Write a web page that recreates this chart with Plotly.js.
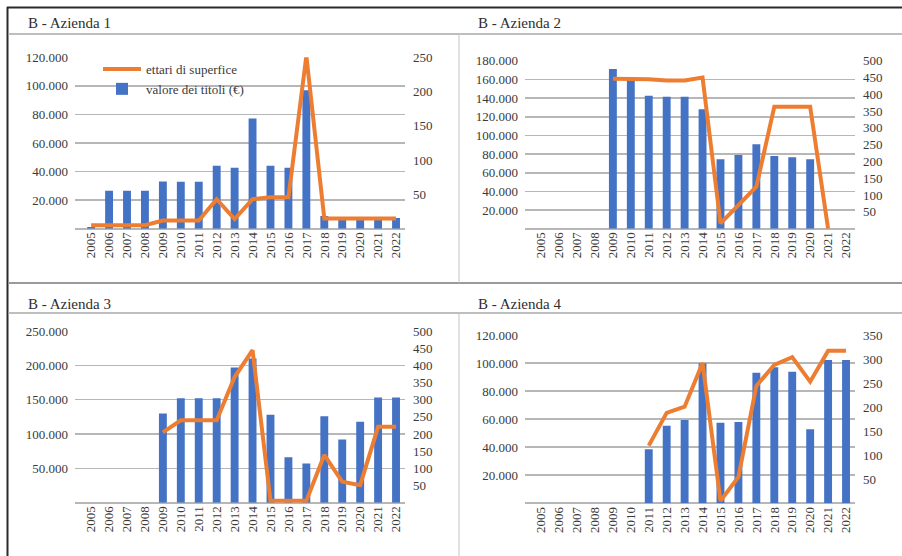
<!DOCTYPE html>
<html>
<head>
<meta charset="utf-8">
<script src="https://cdn.plot.ly/plotly-3.0.1.min.js"></script>
<style>
html,body{margin:0;padding:0;background:#fff;}
#chart{width:902px;height:556px;}
</style>
</head>
<body>
<div id="chart"></div>
<script>
const years = ['2005','2006','2007','2008','2009','2010','2011','2012','2013','2014','2015','2016','2017','2018','2019','2020','2021','2022'];

const panelTitles = ['B - Azienda 1','B - Azienda 2','B - Azienda 3','B - Azienda 4'];
const seriesBarName = 'valore dei titoli (€)';
const seriesLineName = 'ettari di superfice';

const az1Valore = [1200,26500,26500,26500,33000,32800,32800,44000,42600,77200,44000,42600,97000,8900,7500,7500,7500,7500];
const az1Ettari = [5,5,5,5,12,12,12,43,14,43,46,46,252,15,15,15,15,15];

const az2Valore = [null,null,null,null,171000,160000,142500,141400,141400,128000,74300,79000,90400,78000,76500,74300,null,null];
const az2Ettari = [null,null,null,null,446,446,445,441,441,450,16,70,125,363,363,363,0,null];

const az3Valore = [null,null,null,null,130000,152000,152000,152000,197000,210000,128000,66000,57000,126000,92000,118000,153000,153000];
const az3Ettari = [null,null,null,null,205,240,240,240,366,444,6,6,6,139,61,51,221,221];

const az4Valore = [null,null,null,null,null,null,38500,55300,59400,99800,57500,58000,93100,97000,93800,52800,102200,102200];
const az4Ettari = [null,null,null,null,null,null,120,188,201,292,5,55,244,288,304,253,317,317];

const leftTicks1 = [20000,40000,60000,80000,100000,120000];
const rightTicks1 = [50,100,150,200,250];
const leftTicks2 = [20000,40000,60000,80000,100000,120000,140000,160000,180000];
const rightTicks2 = [50,100,150,200,250,300,350,400,450,500];
const leftTicks3 = [50000,100000,150000,200000,250000];
const rightTicks3 = [50,100,150,200,250,300,350,400,450,500];
const leftTicks4 = [20000,40000,60000,80000,100000,120000];
const rightTicks4 = [50,100,150,200,250,300,350];

const W = 902, H = 556;
const BLUE = '#4472C4', ORANGE = '#ED7D31';
const FONT = '"Liberation Serif", "Times New Roman", "DejaVu Serif", serif';
const TXT = '#3a3a3a';
const GRID = '#b7b7b7';

const panels = [
  {bar: az1Valore, line: az1Ettari, lmax:120000, rmax:250, lt:leftTicks1, rt:rightTicks1, x0:75, x1:405, yTop:57.3, yBot:228.7, legend:true},
  {bar: az2Valore, line: az2Ettari, lmax:180000, rmax:500, lt:leftTicks2, rt:rightTicks2, x0:525, x1:855, yTop:60.7, yBot:228.7, legend:false},
  {bar: az3Valore, line: az3Ettari, lmax:250000, rmax:500, lt:leftTicks3, rt:rightTicks3, x0:75, x1:405, yTop:331, yBot:502.7, legend:false},
  {bar: az4Valore, line: az4Ettari, lmax:120000, rmax:350, lt:leftTicks4, rt:rightTicks4, x0:525, x1:855, yTop:335, yBot:503.3, legend:false}
];

const px = v => v / W;
const py = v => 1 - v / H;

const data = [];
const layout = {
  width: W, height: H,
  margin: {l:0, r:0, t:0, b:0},
  paper_bgcolor: '#fff', plot_bgcolor: 'rgba(0,0,0,0)',
  separators: ',.',
  font: {family: FONT, size: 13, color: TXT},
  bargap: 0.56,
  showlegend: true,
  legend: {
    x: px(98), y: py(54), xanchor: 'left', yanchor: 'top',
    bgcolor: 'rgba(0,0,0,0)', borderwidth: 0,
    traceorder: 'reversed',
    font: {family: FONT, size: 13, color: TXT},
    tracegroupgap: 0, itemwidth: 38
  },
  shapes: [], annotations: []
};

panels.forEach((p, i) => {
  const xa = i === 0 ? 'x' : 'x' + (i + 1);
  const yl = 'y' + (2 * i + 1 === 1 ? '' : (2 * i + 1));
  const yr = 'y' + (2 * i + 2);
  const xKey = i === 0 ? 'xaxis' : 'xaxis' + (i + 1);
  const ylKey = 2 * i + 1 === 1 ? 'yaxis' : 'yaxis' + (2 * i + 1);
  const yrKey = 'yaxis' + (2 * i + 2);

  data.push({
    type: 'bar', x: years, y: p.bar, xaxis: xa, yaxis: yl,
    name: seriesBarName, marker: {color: BLUE}, showlegend: p.legend, hoverinfo: 'skip'
  });
  data.push({
    type: 'scatter', mode: 'lines', x: years, y: p.line, xaxis: xa, yaxis: yr,
    name: seriesLineName, line: {color: ORANGE, width: 4}, showlegend: p.legend,
    connectgaps: false, hoverinfo: 'skip'
  });

  layout[xKey] = {
    domain: [px(p.x0), px(p.x1)], anchor: yl, type: 'category',
    range: [-0.9, 17.5], showgrid: false, zeroline: false, showline: false,
    ticks: '', tickangle: -90, tickfont: {family: FONT, size: 13, color: TXT},
    fixedrange: true
  };
  layout[ylKey] = {
    domain: [py(p.yBot), py(p.yTop)], anchor: xa, range: [0, p.lmax],
    tickvals: p.lt, tickformat: ',d', showgrid: true, gridcolor: GRID, gridwidth: 1.6,
    zeroline: true, zerolinecolor: GRID, zerolinewidth: 1.6, showline: false, ticks: '',
    tickfont: {family: FONT, size: 13, color: TXT}, ticklabelstandoff: 6, fixedrange: true
  };
  layout[yrKey] = {
    overlaying: yl, side: 'right', anchor: xa, range: [0, p.rmax],
    tickvals: p.rt, showgrid: false, zeroline: false, showline: false, ticks: '',
    tickfont: {family: FONT, size: 13, color: TXT}, ticklabelstandoff: 7, fixedrange: true
  };
});

// table frame
const S = layout.shapes;
function seg(x0, y0, x1, y1, color, w) {
  S.push({type: 'line', xref: 'paper', yref: 'paper', x0: px(x0), y0: py(y0), x1: px(x1), y1: py(y1),
          line: {color: color, width: w}, layer: 'below'});
}
seg(7, 7.5, 902, 7.5, '#2a2a2a', 2);
seg(7.5, 7, 7.5, 556, '#2a2a2a', 2);
seg(8, 34, 902, 34, '#a8a8a8', 1.5);
seg(8, 283, 902, 283, '#9a9a9a', 2);
seg(8, 313, 902, 313, '#a8a8a8', 1.5);
seg(459, 34, 459, 283, '#c4c4c4', 1);
seg(459, 313, 459, 556, '#c4c4c4', 1);

const titlePos = [[26, 23.5], [476, 23.5], [26, 303.5], [476, 303.5]];
panelTitles.forEach((t, i) => {
  layout.annotations.push({
    text: t, xref: 'paper', yref: 'paper', x: px(titlePos[i][0]), y: py(titlePos[i][1]),
    xanchor: 'left', yanchor: 'middle', showarrow: false,
    font: {family: FONT, size: 15, color: '#2e2e2e'}
  });
});

Plotly.newPlot('chart', data, layout, {staticPlot: true, displayModeBar: false});
</script>
</body>
</html>
